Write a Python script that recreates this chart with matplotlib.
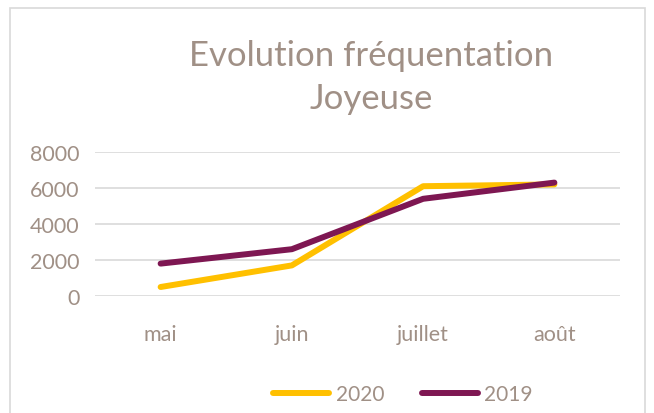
import matplotlib.pyplot as plt
from matplotlib.patches import Rectangle

mois = ["mai", "juin", "juillet", "août"]
val_2020 = [500, 1700, 6100, 6200]
val_2019 = [1800, 2600, 5400, 6300]
yticks = [0, 2000, 4000, 6000, 8000]

txt = "#A09086"
plt.rcParams['font.family'] = ['Lato', 'DejaVu Sans']

fig = plt.figure(figsize=(6.54, 4.14), dpi=100)
fig.patch.set_facecolor("white")

# cadre gris du graphique
fig.patches.append(Rectangle((10 / 654, -0.05), 635 / 654, 1.05 - 9 / 414,
                             transform=fig.transFigure, fill=False,
                             edgecolor="#D9D9D9", linewidth=1.2))

ax = fig.add_axes([95 / 654, (414 - 297) / 414, 525 / 654, 144 / 414])
x = range(len(mois))
ax.plot(x, val_2020, color="#FFC000", linewidth=4.3, label="2020",
        solid_capstyle="round", zorder=3)
ax.plot(x, val_2019, color="#7E1752", linewidth=4.3, label="2019",
        solid_capstyle="round", zorder=4)

ax.set_xlim(-0.5, 3.5)
ax.set_ylim(0, 8000)
ax.set_yticks(yticks)
ax.set_yticklabels([str(v) for v in yticks])
ax.set_xticks(list(x))
ax.set_xticklabels(mois)
ax.grid(axis="y", color="#D9D9D9", linewidth=1.2)
ax.set_axisbelow(True)
for s in ax.spines.values():
    s.set_visible(False)
ax.tick_params(length=0, labelsize=15.5, labelcolor=txt)
ax.tick_params(axis="x", pad=20)
ax.tick_params(axis="y", pad=11)

fig.text(0.567, 0.812, "Evolution fréquentation\nJoyeuse", ha="center",
         va="center", fontsize=25, color=txt, linespacing=1.42)

fig.legend(loc="center", bbox_to_anchor=(0.616, 0.045), ncol=2, frameon=False,
           fontsize=15, labelcolor=txt, handlelength=2.7, columnspacing=1.8,
           handletextpad=0.3)

fig.savefig("out.png", dpi=100)
